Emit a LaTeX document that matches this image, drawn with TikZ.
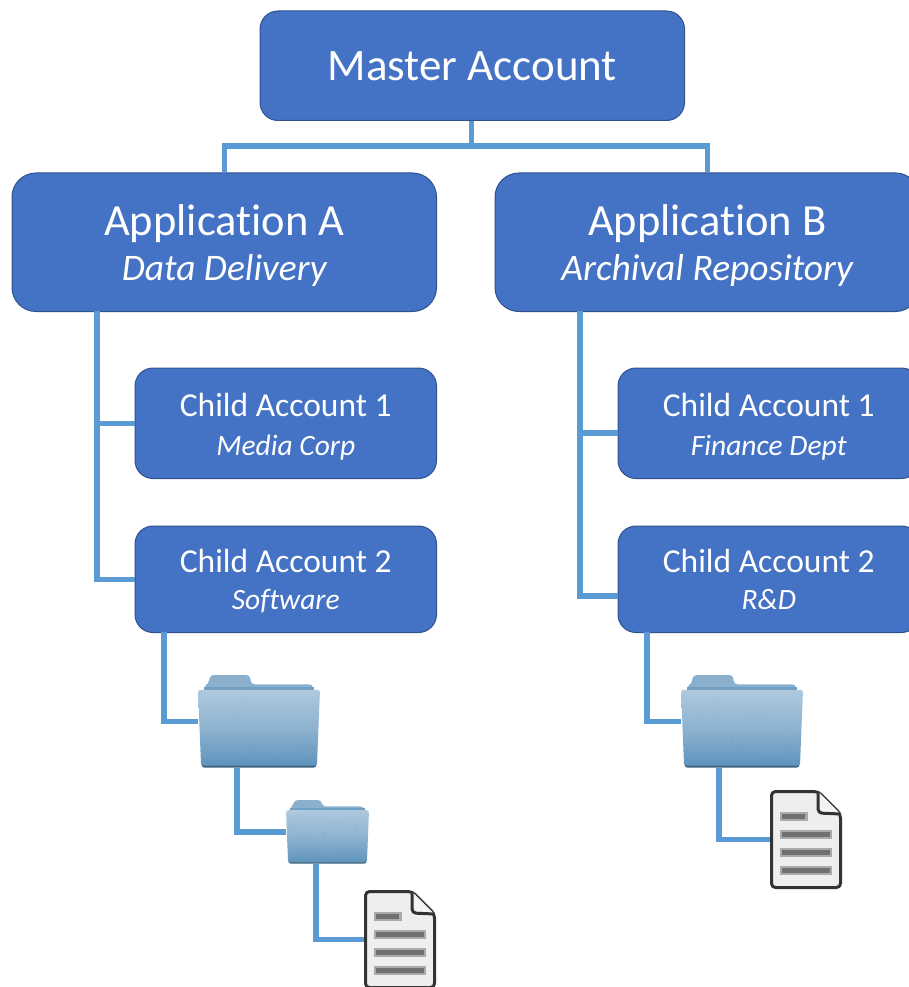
\documentclass[tikz,border=0pt]{standalone}
\usepackage{fontspec}
\setmainfont{Carlito}[Ligatures={NoCommon,NoRequired}]
\definecolor{boxfill}{HTML}{4472C4}
\definecolor{boxline}{HTML}{2F528F}
\definecolor{connblue}{HTML}{5B9BD5}
\definecolor{foldtop}{HTML}{AFC9DE}
\definecolor{foldmid}{HTML}{8DB3D0}
\definecolor{foldbot}{HTML}{5F94BC}
\definecolor{foldback}{HTML}{8AB0CE}
\definecolor{foldstrip}{HTML}{6F9FC3}
\definecolor{foldedge}{HTML}{41627E}
\definecolor{docline}{HTML}{333333}
\definecolor{docfill}{HTML}{EEEEEE}
\definecolor{barhalo}{HTML}{AAAAAA}
\definecolor{barcore}{HTML}{707070}
\newcommand{\bigtext}{\fontsize{45}{50}\selectfont}
\newcommand{\apptext}{\fontsize{44.5}{50}\selectfont\rule{0pt}{37pt}}
\newcommand{\appsub}{\fontsize{37.5}{46}\selectfont\itshape}
\newcommand{\childtext}[1]{\fontsize{33.5}{38}\selectfont\rule{0pt}{#1}}
\newcommand{\childsub}{\fontsize{29.5}{38}\selectfont\itshape\vphantom{p}}
\tikzset{
  x=1pt,y=-1pt,
  acct/.style={draw=boxline,line width=1pt,fill=boxfill,text=white,align=center,inner sep=0pt,anchor=north west},
  masterbox/.style={acct,minimum width=424.5pt,minimum height=109.5pt,rounded corners=18pt},
  appbox/.style={acct,minimum width=424.5pt,minimum height=138.5pt,rounded corners=24pt},
  childbox/.style={acct,minimum width=301.5pt,rounded corners=18pt},
  conn/.style={draw=connblue,line width=5.5pt,line cap=butt,line join=miter},
  iconbox/.style={inner sep=0pt,outer sep=0pt,anchor=north west},
}
% name, x, y, w, h
\newcommand{\folder}[5]{%
  \node[iconbox,minimum width=#4pt,minimum height=#5pt] (#1) at (#2,#3) {};
  \begin{scope}[shift={(#2,#3)},x=#4pt,y=-#5pt]
    \fill[foldback,rounded corners=3.5pt] (.05,.25) -- (.05,.12) -- (.085,.10) -- (.10,.0) -- (.425,.0) -- (.435,.10) -- (.94,.10) -- (.95,.25) -- cycle;
    \fill[foldstrip] (.05,.125) rectangle (.95,.18);
    \fill[foldedge,rounded corners=2.5pt] (.03,.6) -- (.97,.6) -- (.97,.995) -- (.03,.995) -- cycle;
    \path[top color=foldtop,bottom color=foldbot,middle color=foldmid,rounded corners=2.5pt] (0,.16) -- (1,.16) -- (.975,.975) -- (.025,.975) -- cycle;
    \foreach \n in {1,...,30}{
      \fill[foldedge,opacity=.35] ({.05+.9*rnd},{.22+.72*rnd}) circle[radius=.45pt];
    }
  \end{scope}
}
% name, x, y
\newcommand{\paperdoc}[3]{%
  \node[iconbox,minimum width=72pt,minimum height=99pt] (#1) at (#2,#3) {};
  \begin{scope}[shift={(#2,#3)}]
    \draw[docline,fill=docfill,line width=3pt,rounded corners=4pt,line join=round] (1.5,1.5) -- (48,1.5) -- (70.5,24) -- (70.5,97.5) -- (1.5,97.5) -- cycle;
    \draw[docline,fill=docfill!70!white,line width=3pt,rounded corners=4pt,line join=round] (48,1.5) -- (48,23) -- (70.5,24);
    \fill[barhalo] (9.5,22) rectangle (37.5,30.5);
    \fill[barcore] (12,24) rectangle (35,28.5);
    \foreach \ya in {40,58,76}{
      \fill[barhalo] (9.5,\ya) rectangle (62,\ya+8.5);
      \fill[barcore] (12,\ya+2) rectangle (60,\ya+6.5);
    }
  \end{scope}
}
\begin{document}
\begin{tikzpicture}
\useasboundingbox (0,0) rectangle (909,987);
\clip (0,0) rectangle (909,987);
\pgfmathsetseed{7}
\node[masterbox] (master) at (259.5,10.5) {\bigtext Master Account};
\node[appbox] (appa) at (11.5,172.5) {\apptext Application A\\[11pt]\appsub Data Delivery};
\node[appbox] (appb) at (494.5,172.5) {\apptext Application B\\[11pt]\appsub Archival Repository};
\node[childbox,minimum height=110.5pt] (ca1) at (134.5,367.5) {\childtext{30.5pt}Child Account 1\\[17pt]\childsub Media Corp};
\node[childbox,minimum height=106.5pt] (ca2) at (134.5,525.5) {\childtext{28.5pt}Child Account 2\\[15pt]\childsub Software};
\node[childbox,minimum height=110.5pt] (cb1) at (617.5,367.5) {\childtext{30.5pt}Child Account 1\\[17pt]\childsub Finance Dept};
\node[childbox,minimum height=106.5pt] (cb2) at (617.5,525.5) {\childtext{28.5pt}Child Account 2\\[15pt]\childsub R\&D};
\folder{fa}{198}{675}{122}{93}
\folder{fs}{286}{800}{83}{64}
\folder{fb}{681}{675}{122}{93}
\paperdoc{da}{364}{890}
\paperdoc{db}{770}{790}
% connectors
\coordinate (split) at (471.5,146);
\draw[conn] (master.south -| split) -- (split);
\draw[conn] (appa.north) |- (split) -| (appb.north);
\coordinate (trunka) at (97,311);
\coordinate (trunkb) at (580,311);
\coordinate (tapb) at (580,433);
\coordinate (tapc) at (580,596);
\draw[conn] (trunka) |- (ca1.west);
\draw[conn] (trunka) |- (ca2.west);
\draw[conn] (trunkb) -- (tapb) -- (tapb -| cb1.west);
\draw[conn] (trunkb) -- (tapc) -- (tapc -| cb2.west);
\coordinate (x1) at (164,632);
\coordinate (x2) at (237,768);
\coordinate (x3) at (316,864);
\coordinate (x4) at (647,632);
\coordinate (x5) at (719,768);
\draw[conn] (x1) |- (fa.west);
\draw[conn] (x2) |- (fs.west);
\draw[conn] (x3) |- (da.west);
\draw[conn] (x4) |- (fb.west);
\draw[conn] (x5) |- (db.west);
\end{tikzpicture}
\end{document}
